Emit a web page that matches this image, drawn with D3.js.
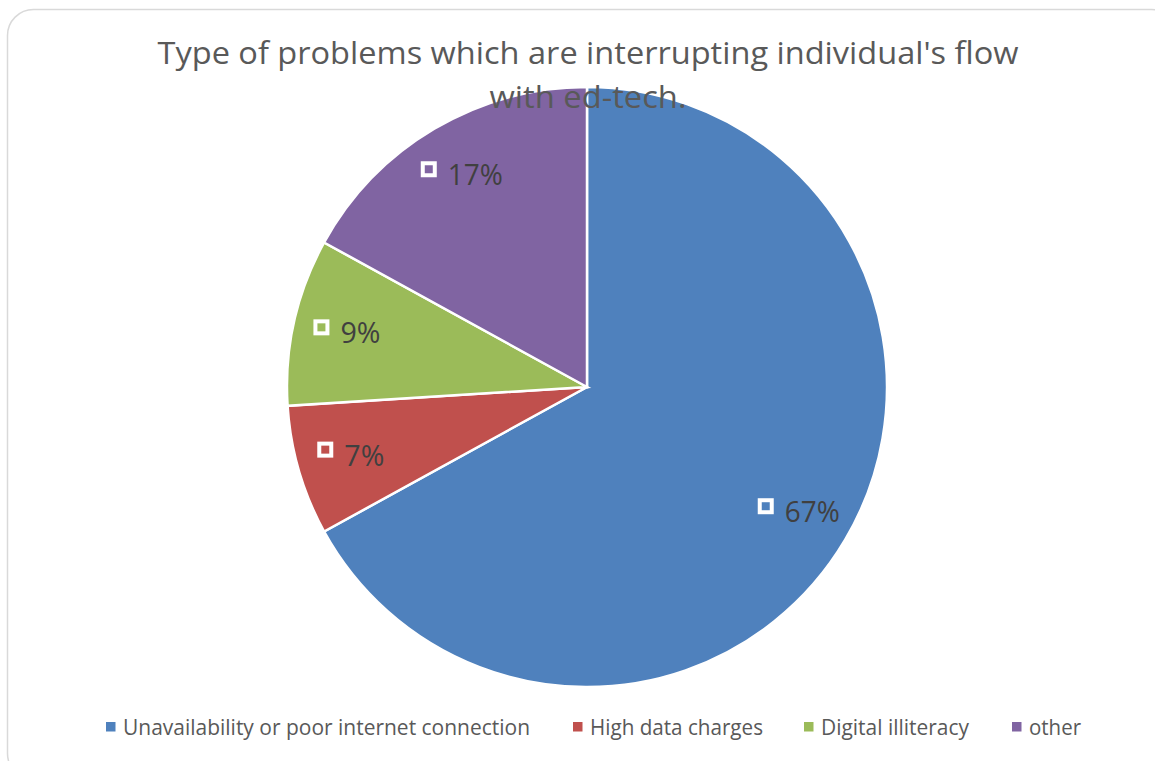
<!DOCTYPE html>
<html>
<head>
<meta charset="utf-8">
<script src="https://cdn.jsdelivr.net/npm/d3@7"></script>
<style>
  html, body { margin: 0; padding: 0; background: #fff; }
  svg { display: block; }
  text { font-family: "Open Sans", "Noto Sans", sans-serif; }
</style>
</head>
<body>
<svg id="chart" width="1155" height="761"></svg>
<script>
// ---- data ----
const categories = ["Unavailability or poor internet connection", "High data charges", "Digital illiteracy", "other"];
const values = [67, 7, 9, 17];
const valueLabels = ["67%", "7%", "9%", "17%"];
const colors = ["#4F81BD", "#C0504D", "#9BBB59", "#8064A2"];
const titleLines = ["Type of problems which are interrupting individual's flow", "with ed-tech."];

// ---- layout ----
const W = 1155, H = 761;
const cx = 587, cy = 387, R = 300;
const svg = d3.select("#chart");

// chart border
svg.append("rect")
  .attr("x", 7.5).attr("y", 9.5)
  .attr("width", 1170).attr("height", 770)
  .attr("rx", 26).attr("ry", 26)
  .attr("fill", "#fff")
  .attr("stroke", "#d9d9d9")
  .attr("stroke-width", 1.5);

const data = categories.map((c, i) => ({ cat: c, value: values[i], label: valueLabels[i], color: colors[i] }));

const pie = d3.pie().value(d => d.value).sort(null);
const arcs = pie(data);
const arc = d3.arc().innerRadius(0).outerRadius(R);
const labelArc = d3.arc().innerRadius(R * 0.82).outerRadius(R * 0.82);

const g = svg.append("g").attr("transform", `translate(${cx},${cy})`);
g.selectAll("path.slice")
  .data(arcs)
  .join("path")
  .attr("class", "slice")
  .attr("d", arc)
  .attr("fill", d => d.data.color)
  .attr("stroke", "#fff")
  .attr("stroke-width", 2.5)
  .attr("stroke-linejoin", "miter");

// data labels: hollow white square marker + percentage text
const labelFont = 29;
const sq = 12, gap = 11;
const lab = g.selectAll("g.lab")
  .data(arcs)
  .join("g")
  .attr("class", "lab");
lab.each(function(d) {
  const [lx, ly] = labelArc.centroid(d);
  const sel = d3.select(this);
  const t = sel.append("text")
    .attr("font-size", labelFont)
    .attr("fill", "#404040")
    .text(d.data.label);
  const tw = d.data.label.length === 3 ? 55 : 40;
  t.attr("textLength", tw).attr("lengthAdjust", "spacingAndGlyphs");
  const total = sq + 4 + gap + tw;
  const x0 = lx - total / 2;
  sel.append("rect")
    .attr("x", x0 + 2).attr("y", ly - 6 - sq / 2)
    .attr("width", sq).attr("height", sq)
    .attr("fill", "none")
    .attr("stroke", "#fff")
    .attr("stroke-width", 4);
  t.attr("x", x0 + sq + 4 + gap).attr("y", ly + 10);
});

// title
const titleWidths = [861, 197];
const titleBase = [64, 108];
svg.selectAll("text.title")
  .data(titleLines)
  .join("text")
  .attr("class", "title")
  .attr("x", cx + 1)
  .attr("y", (d, i) => titleBase[i])
  .attr("text-anchor", "middle")
  .attr("font-size", 31)
  .attr("fill", "#595959")
  .attr("textLength", (d, i) => titleWidths[i])
  .attr("lengthAdjust", "spacingAndGlyphs")
  .text(d => d);

// legend
const legX = [106, 573, 804, 1012];
const legTextW = [407, 173, 148, 52];
const legY = 727;
const leg = svg.selectAll("g.leg")
  .data(data)
  .join("g")
  .attr("class", "leg");
leg.append("rect")
  .attr("x", (d, i) => legX[i])
  .attr("y", legY - 5)
  .attr("width", 9.5).attr("height", 9.5)
  .attr("fill", d => d.color);
leg.append("text")
  .attr("x", (d, i) => legX[i] + 17)
  .attr("y", legY + 8)
  .attr("font-size", 22)
  .attr("fill", "#595959")
  .attr("textLength", (d, i) => legTextW[i])
  .attr("lengthAdjust", "spacingAndGlyphs")
  .text(d => d.cat);
</script>
</body>
</html>
